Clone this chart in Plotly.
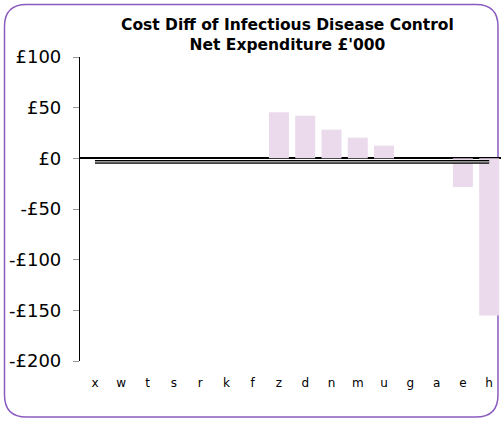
import plotly.graph_objects as go

categories = ["x", "w", "t", "s", "r", "k", "f", "z", "d", "n", "m", "u", "g", "a", "e", "h"]
cost_diff = [None, None, None, None, None, None, None, 45.4, 42.0, 28.3, 20.4, 12.5, None, None, -28.3, -155.0]
average_line = [-3.5, -3.5, -3.5, -3.5, -3.5, -3.5, -3.5, -3.5, -3.5, -3.5, -3.5, -3.5, -3.5, -3.5, -3.5, -3.5]
y_ticks = [100, 50, 0, -50, -100, -150, -200]
y_tick_labels = ["£100", "£50", "£0", "-£50", "-£100", "-£150", "-£200"]
title_text = "Cost Diff of Infectious Disease Control<br>Net Expenditure £'000"

W, H = 501, 421
L, R, T, B = 80, 0, 57, 60
pw, ph = W - L - R, H - T - B

fig = go.Figure()
fig.add_trace(go.Bar(
    x=categories, y=cost_diff, width=0.76,
    marker=dict(color="#EBD9EC", line=dict(width=0)),
    showlegend=False, hoverinfo="x+y",
))
fig.add_trace(go.Scatter(
    x=categories, y=average_line, mode="lines",
    line=dict(color="#000000", width=3.6), showlegend=False, hoverinfo="skip",
))
fig.add_trace(go.Scatter(
    x=categories, y=average_line, mode="lines",
    line=dict(color="#c8c8c8", width=1.2), showlegend=False, hoverinfo="skip",
))

def px_to_paper(xp, yp):
    return (xp - L) / pw, (H - B - yp) / ph

# rounded border
x0, y0, x1, y1, r = 4.5, 4.5, 498.0, 417.0, 22
def P(xp, yp):
    a, b = px_to_paper(xp, yp)
    return f"{a:.5f},{b:.5f}"
path = (f"M {P(x0 + r, y0)} L {P(x1 - r, y0)} Q {P(x1, y0)} {P(x1, y0 + r)} "
        f"L {P(x1, y1 - r)} Q {P(x1, y1)} {P(x1 - r, y1)} "
        f"L {P(x0 + r, y1)} Q {P(x0, y1)} {P(x0, y1 - r)} "
        f"L {P(x0, y0 + r)} Q {P(x0, y0)} {P(x0 + r, y0)} Z")
fig.add_shape(type="path", path=path, xref="paper", yref="paper",
              line=dict(color="#8A5CC0", width=1.5), layer="below")

xa, ya = px_to_paper(287, 35)
fig.add_annotation(text=f"<b>{title_text}</b>", x=xa, y=ya, xref="paper", yref="paper",
                   xanchor="center", yanchor="middle", showarrow=False,
                   font=dict(size=15.5, family="DejaVu Sans, Verdana, sans-serif", color="#000"))

fig.update_layout(
    width=W, height=H,
    margin=dict(l=L, r=R, t=T, b=B),
    paper_bgcolor="white", plot_bgcolor="white",
    font=dict(family="DejaVu Sans, Verdana, sans-serif", color="#000"),
    xaxis=dict(
        range=[-0.57, 15.45], showgrid=False, zeroline=False, showline=False,
        ticks="", tickfont=dict(size=12), ticklabelstandoff=13, fixedrange=True,
    ),
    yaxis=dict(
        range=[-200, 100], tickvals=y_ticks, ticktext=y_tick_labels,
        showgrid=False, zeroline=True, zerolinecolor="#000", zerolinewidth=1.5,
        showline=True, linecolor="#000", linewidth=1.2,
        ticks="outside", ticklen=6, tickcolor="#999", tickwidth=1,
        tickfont=dict(size=18), ticklabelstandoff=8, fixedrange=True,
    ),
)

fig.write_html("out.html", config={"displayModeBar": False},
               post_script="document.body.style.margin='0';document.body.style.overflow='hidden';")
